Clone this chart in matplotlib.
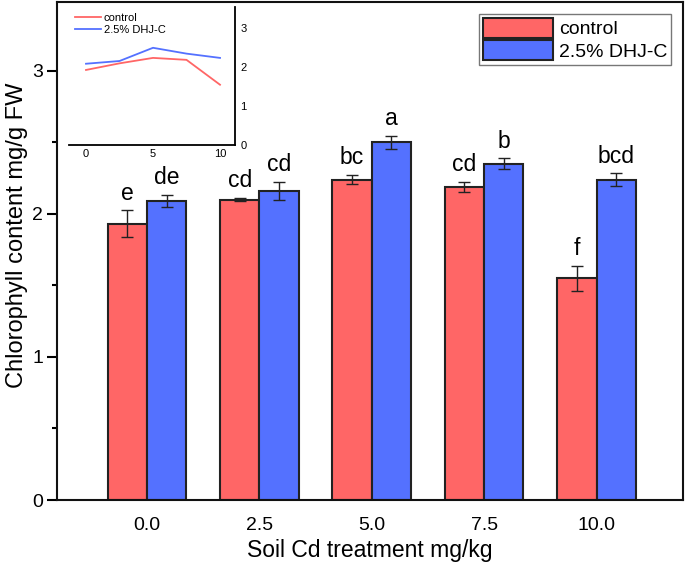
import matplotlib
matplotlib.use("Agg")
import matplotlib.pyplot as plt
import numpy as np
from matplotlib.ticker import MultipleLocator

plt.rcParams['font.family'] = ['Liberation Sans', 'DejaVu Sans']

categories = ["0.0", "2.5", "5.0", "7.5", "10.0"]
inset_x = [0, 2.5, 5, 7.5, 10]
control = [1.93, 2.10, 2.24, 2.19, 1.55]
control_err = [0.095, 0.01, 0.03, 0.035, 0.087]
dhjc = [2.09, 2.16, 2.50, 2.35, 2.24]
dhjc_err = [0.045, 0.065, 0.045, 0.037, 0.043]
control_letters = ["e", "cd", "bc", "cd", "f"]
dhjc_letters = ["de", "cd", "a", "b", "bcd"]
series_names = ["control", "2.5% DHJ-C"]

red = '#ff6666'
blue = '#5471ff'

fig = plt.figure(figsize=(6.85, 5.62), dpi=100)
ax = fig.add_axes([0.0832, 0.1103, 0.914, 0.886])

x = np.arange(len(categories))
w = 0.35
ax.bar(x - w/2, control, w, color=red, edgecolor='#222222', linewidth=1.5,
       yerr=control_err, capsize=4, error_kw=dict(elinewidth=1, capthick=1, ecolor='#222222'),
       label=series_names[0], zorder=2)
ax.bar(x + w/2, dhjc, w, color=blue, edgecolor='#222222', linewidth=1.5,
       yerr=dhjc_err, capsize=4, error_kw=dict(elinewidth=1, capthick=1, ecolor='#222222'),
       label=series_names[1], zorder=2)

for i in range(len(categories)):
    ax.text(x[i] - w/2, control[i] + control_err[i] + 0.04, control_letters[i],
            ha='center', va='bottom', fontsize=16.5)
    ax.text(x[i] + w/2, dhjc[i] + dhjc_err[i] + 0.04, dhjc_letters[i],
            ha='center', va='bottom', fontsize=16.5)

ax.set_xlim(-0.8, 4.77)
ax.set_ylim(0, 3.48)
ax.set_xticks(x)
ax.set_xticklabels(categories, fontsize=14)
ax.set_yticks([0, 1, 2, 3])
ax.set_yticklabels(['0', '1', '2', '3'], fontsize=14)
ax.yaxis.set_minor_locator(MultipleLocator(0.5))
ax.tick_params(axis='x', length=0, pad=12)
ax.tick_params(axis='y', which='major', length=7, width=1.5, direction='out', pad=3)
ax.tick_params(axis='y', which='minor', length=3.5, width=1.5, direction='out')
for s in ax.spines.values():
    s.set_linewidth(1.5)
    s.set_color('#111111')
ax.set_xlabel("Soil Cd treatment mg/kg", fontsize=16.5, labelpad=4)
ax.set_ylabel("Chlorophyll content mg/g FW", fontsize=17)
ax.yaxis.set_label_coords(-0.046, 0.532)

leg = ax.legend(loc='upper right', fontsize=14, frameon=True, fancybox=False,
                edgecolor='#555555', borderpad=0.2, handlelength=3.6, handleheight=1.2,
                handletextpad=0.3, labelspacing=0.1, borderaxespad=0.6)
leg.get_frame().set_linewidth(1.0)

# inset
ins = fig.add_axes([0.1007, 0.742, 0.242, 0.2456])
ins.plot(inset_x, control, color=red, lw=1.3, label=series_names[0])
ins.plot(inset_x, dhjc, color=blue, lw=1.3, label=series_names[1])
ins.set_xlim(-1.27, 11.1)
ins.set_ylim(0, 3.55)
ins.set_xticks([0, 5, 10])
ins.set_yticks([0, 1, 2, 3])
ins.yaxis.tick_right()
ins.spines['left'].set_visible(False)
ins.spines['top'].set_visible(False)
ins.spines['right'].set_linewidth(1.3)
ins.spines['bottom'].set_linewidth(1.3)
ins.tick_params(axis='both', length=0, labelsize=8, pad=3)
ins.tick_params(axis='y', pad=4)
ins.legend(loc='upper left', fontsize=8, frameon=False, handlelength=2.35,
           borderaxespad=0.1, labelspacing=0.2, handletextpad=0.3)

fig.savefig("out.png", dpi=100)
